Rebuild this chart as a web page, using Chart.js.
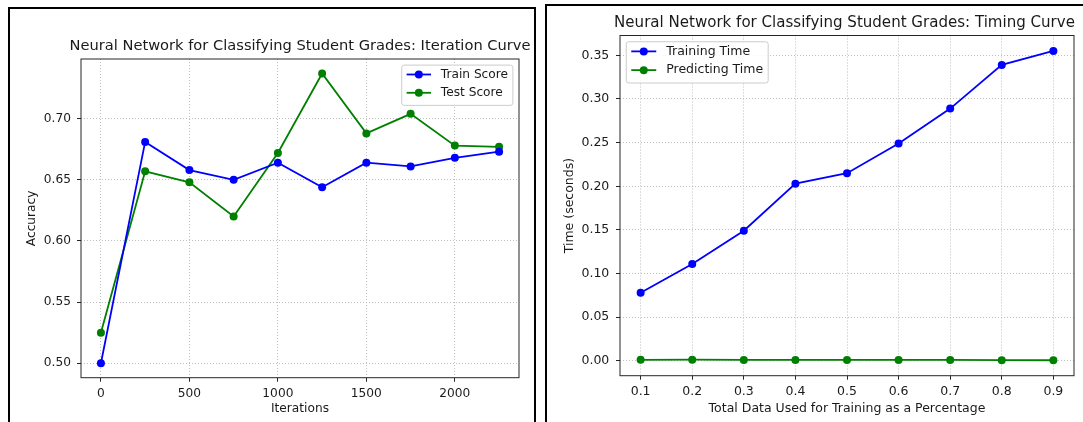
<!DOCTYPE html>
<html>
<head>
<meta charset="utf-8">
<script src="https://cdn.jsdelivr.net/npm/chart.js@4.4.1/dist/chart.umd.min.js"></script>
<style>
  html, body { margin: 0; padding: 0; background: #fff; width: 1083px; height: 422px; overflow: hidden; }
  canvas { position: absolute; top: 0; }
  #iterCanvas { left: 0; }
  #timeCanvas { left: 540px; }
  .panel { position: absolute; border: 2px solid #000; box-sizing: border-box; pointer-events: none; z-index: 2; }
  #panelA { left: 8px; top: 7px; width: 528px; height: 430px; }
  #panelB { left: 545px; top: 4px; width: 560px; height: 430px; }
</style>
</head>
<body>
<div class="panel" id="panelA"></div>
<div class="panel" id="panelB"></div>
<canvas id="iterCanvas" width="540" height="422"></canvas>
<canvas id="timeCanvas" width="543" height="422"></canvas>
<script>
// Iteration curve: accuracy after a given number of training iterations
const iterations = [0, 250, 500, 750, 1000, 1250, 1500, 1750, 2000, 2250];
const trainScore = [0.500, 0.681, 0.658, 0.650, 0.664, 0.644, 0.664, 0.661, 0.668, 0.673];
const testScore  = [0.525, 0.657, 0.648, 0.620, 0.672, 0.737, 0.688, 0.704, 0.678, 0.677];
const iterationTicks = [0, 500, 1000, 1500, 2000];
const accuracyTicks = [0.50, 0.55, 0.60, 0.65, 0.70];

// Timing curve: seconds spent training / predicting per share of the data
const trainFractions = [0.1, 0.2, 0.3, 0.4, 0.5, 0.6, 0.7, 0.8, 0.9];
const trainingTime   = [0.078, 0.111, 0.149, 0.203, 0.215, 0.249, 0.289, 0.339, 0.355];
const predictingTime = [0.0012, 0.0013, 0.0011, 0.0011, 0.0011, 0.0010, 0.0010, 0.0008, 0.0007];
const fractionTicks = [0.1, 0.2, 0.3, 0.4, 0.5, 0.6, 0.7, 0.8, 0.9];
const timeTicks = [0.00, 0.05, 0.10, 0.15, 0.20, 0.25, 0.30, 0.35];

const FONT = '"DejaVu Sans", "Liberation Sans", sans-serif';
const INK = '#1a1a1a';
const BLUE = '#0000ff';
const GREEN = '#008000';
const LINE_W = 1.8;
const DOT_R = 4;

// axis limits padded by 5% of the data span on each side
function padded(values) {
  const lo = Math.min(...values), hi = Math.max(...values);
  const m = (hi - lo) * 0.05;
  return [lo - m, hi + m];
}

function pairs(xs, ys) { return xs.map((x, i) => ({ x: x, y: ys[i] })); }

function series(label, xs, ys, color) {
  return {
    label: label,
    data: pairs(xs, ys),
    borderColor: color,
    backgroundColor: color,
    borderWidth: LINE_W,
    pointRadius: DOT_R,
    pointBorderWidth: 0,
    pointBackgroundColor: color,
    pointHoverRadius: DOT_R,
    tension: 0,
    fill: false
  };
}

// heading above the plot, axes frame, and a boxed legend inside the plot area
const frameAndLegend = {
  id: 'frameAndLegend',
  afterDatasetsDraw(chart, args, opts) {
    const ctx = chart.ctx, ca = chart.chartArea;
    ctx.save();
    ctx.strokeStyle = '#262626';
    ctx.lineWidth = 1;
    ctx.strokeRect(ca.left, ca.top, ca.right - ca.left, ca.bottom - ca.top);

    // heading, centred over the plot area (allowed to be wider than it)
    ctx.font = opts.titleSize + 'px ' + FONT;
    ctx.fillStyle = INK;
    ctx.textAlign = 'center';
    ctx.textBaseline = 'middle';
    ctx.fillText(opts.title, (ca.left + ca.right) / 2 + opts.titleDx, opts.titleY);

    const f = opts.fontSize;
    ctx.font = f + 'px ' + FONT;
    const sets = chart.data.datasets;
    const textW = Math.max(...sets.map(d => ctx.measureText(d.label).width));
    const pad = 0.4 * f, hl = 2 * f, htp = 0.8 * f, axPad = 0.5 * f;
    const w = pad * 2 + hl + htp + textW;
    const h = 0.77 * f + (sets.length - 1) * 1.5 * f + 1.03 * f;
    const x0 = opts.align === 'right' ? ca.right - axPad - w : ca.left + axPad;
    const y0 = ca.top + axPad;
    const r = 0.2 * f;

    ctx.beginPath();
    ctx.roundRect(x0, y0, w, h, r);
    ctx.fillStyle = 'rgba(255,255,255,0.85)';
    ctx.fill();
    ctx.strokeStyle = '#cccccc';
    ctx.lineWidth = 1;
    ctx.stroke();

    sets.forEach((d, i) => {
      const y = y0 + 0.77 * f + i * 1.5 * f;
      const hx = x0 + pad;
      ctx.strokeStyle = d.borderColor;
      ctx.lineWidth = LINE_W;
      ctx.beginPath();
      ctx.moveTo(hx, y);
      ctx.lineTo(hx + hl, y);
      ctx.stroke();
      ctx.fillStyle = d.borderColor;
      ctx.beginPath();
      ctx.arc(hx + hl / 2, y, DOT_R, 0, Math.PI * 2);
      ctx.fill();
      ctx.fillStyle = INK;
      ctx.textBaseline = 'middle';
      ctx.textAlign = 'left';
      ctx.fillText(d.label, hx + hl + htp, y);
    });
    ctx.restore();
  }
};

function axis(o) {
  return {
    type: 'linear',
    min: o.range[0],
    max: o.range[1],
    bounds: 'data',
    afterBuildTicks: s => { s.ticks = o.ticks.map(v => ({ value: v })); },
    afterFit: s => { if (o.width !== undefined) s.width = o.width; if (o.height !== undefined) s.height = o.height; },
    grid: {
      color: '#b8b8b8',
      lineWidth: 0.9,
      drawTicks: true,
      tickLength: 4,
      tickColor: '#262626',
      tickWidth: 1,
      tickBorderDash: []
    },
    border: { display: false, dash: [1, 2] },
    ticks: {
      color: INK,
      font: { family: FONT, size: o.font },
      padding: o.tickPad,
      maxRotation: 0,
      autoSkip: false,
      callback: v => v.toFixed(o.digits)
    },
    title: {
      display: true,
      text: o.title,
      color: INK,
      font: { family: FONT, size: o.font },
      padding: o.titlePad
    }
  };
}

function makeChart(id, cfg) {
  return new Chart(document.getElementById(id), {
    type: 'line',
    data: { datasets: cfg.datasets },
    options: {
      responsive: false,
      animation: false,
      devicePixelRatio: 1,
      events: [],
      layout: { padding: cfg.padding },
      plugins: {
        legend: { display: false },
        tooltip: { enabled: false },
        title: { display: false },
        frameAndLegend: {
          fontSize: cfg.font,
          align: cfg.legendAlign,
          title: cfg.title,
          titleSize: cfg.titleSize,
          titleY: cfg.titleY,
          titleDx: cfg.titleDx
        }
      },
      scales: { x: cfg.x, y: cfg.y }
    },
    plugins: [frameAndLegend]
  });
}

makeChart('iterCanvas', {
  title: 'Neural Network for Classifying Student Grades: Iteration Curve',
  titleSize: 14.65,
  titleY: 46.2,
  titleDx: 0,
  font: 12.2,
  legendAlign: 'right',
  padding: { left: 0, right: 21, top: 59, bottom: 0 },
  datasets: [
    series('Train Score', iterations, trainScore, BLUE),
    series('Test Score', iterations, testScore, GREEN)
  ],
  x: axis({ range: padded(iterations), ticks: iterationTicks, digits: 0, font: 12.2, tickPad: 4.5,
            title: 'Iterations', titlePad: { top: 0, bottom: 6 }, height: 44.3 }),
  y: axis({ range: padded(trainScore.concat(testScore)), ticks: accuracyTicks, digits: 2, font: 12.2, tickPad: 6,
            title: 'Accuracy', titlePad: { top: 25, bottom: 0 }, width: 81 })
});

makeChart('timeCanvas', {
  title: 'Neural Network for Classifying Student Grades: Timing Curve',
  titleSize: 15.05,
  titleY: 23.2,
  titleDx: -2.5,
  font: 12.5,
  legendAlign: 'left',
  padding: { left: 0, right: 9, top: 35.5, bottom: 0 },
  datasets: [
    series('Training Time', trainFractions, trainingTime, BLUE),
    series('Predicting Time', trainFractions, predictingTime, GREEN)
  ],
  x: axis({ range: padded(trainFractions), ticks: fractionTicks, digits: 1, font: 12.5, tickPad: 4.5,
            title: 'Total Data Used for Training as a Percentage', titlePad: { top: 0, bottom: 6 }, height: 46.3 }),
  y: axis({ range: padded(trainingTime.concat(predictingTime)), ticks: timeTicks, digits: 2, font: 12.5, tickPad: 6.7,
            title: 'Time (seconds)', titlePad: { top: 21.9, bottom: 0 }, width: 80 })
});
</script>
</body>
</html>
